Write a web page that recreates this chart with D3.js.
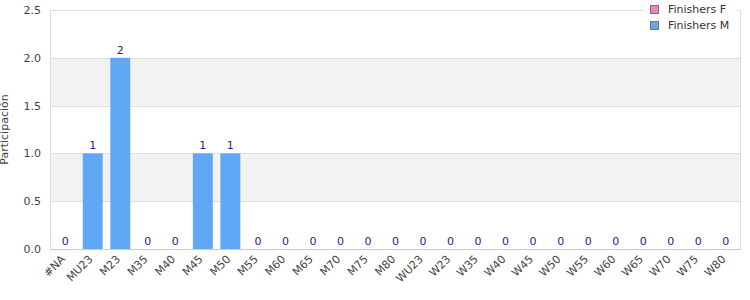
<!DOCTYPE html>
<html>
<head>
<meta charset="utf-8">
<script src="https://cdn.jsdelivr.net/npm/d3@7"></script>
<style>
  body { margin: 0; background: #fff; }
  svg { font-family: "DejaVu Sans", sans-serif; }
</style>
</head>
<body>
<svg id="chart" width="750" height="300"></svg>
<script>
// categories and series
var categories = ["#NA","MU23","M23","M35","M40","M45","M50","M55","M60","M65","M70","M75","M80",
  "WU23","W23","W35","W40","W45","W50","W55","W60","W65","W70","W75","W80"];
var finishersF = [0,0,0,0,0,0,0,0,0,0,0,0,0,0,0,0,0,0,0,0,0,0,0,0,0];
var finishersM = [0,1,2,0,0,1,1,0,0,0,0,0,0,0,0,0,0,0,0,0,0,0,0,0,0];
var yTicks = [0, 0.5, 1.0, 1.5, 2.0, 2.5];
var seriesNames = ["Finishers F", "Finishers M"];

var margin = { top: 10, right: 9, bottom: 51, left: 50 };
var width = 750 - margin.left - margin.right;
var height = 300 - margin.top - margin.bottom;

var svg = d3.select("#chart")
  .append("g")
  .attr("transform", "translate(" + margin.left + "," + margin.top + ")");

var x = d3.scaleBand().domain(categories).range([0, width]).paddingInner(0.275).paddingOuter(0.19);
var y = d3.scaleLinear().domain([0, 2.5]).range([height, 0]);
var color = d3.scaleOrdinal().domain(seriesNames).range(["#f27fc0", "#60a8f5"]);

// alternating bands
for (var i = 0; i < yTicks.length - 1; i++) {
  if (i % 2 == 1) {
    svg.append("rect")
      .attr("x", 0).attr("width", width)
      .attr("y", y(yTicks[i + 1])).attr("height", y(yTicks[i]) - y(yTicks[i + 1]))
      .attr("fill", "#f2f2f2");
  }
}

// grid lines
svg.append("g").selectAll("line")
  .data(yTicks.slice(1, -1))
  .enter().append("line")
  .attr("x1", 0).attr("x2", width)
  .attr("y1", function (d) { return Math.round(y(d)) + 0.5; })
  .attr("y2", function (d) { return Math.round(y(d)) + 0.5; })
  .attr("stroke", "#dddddd");

// plot border
svg.append("rect")
  .attr("x", 0.5).attr("y", 0.5).attr("width", width - 1).attr("height", height)
  .attr("fill", "none").attr("stroke", "#dddddd");

// bars (stacked F then M)
var stacked = categories.map(function (c, i) {
  return { cat: c, f: finishersF[i], m: finishersM[i] };
});
svg.append("g").selectAll("rect.f")
  .data(stacked).enter().append("rect")
  .attr("x", function (d) { return x(d.cat); })
  .attr("width", x.bandwidth())
  .attr("y", function (d) { return y(d.f); })
  .attr("height", function (d) { return y(0) - y(d.f); })
  .attr("fill", color("Finishers F"));
svg.append("g").selectAll("rect.m")
  .data(stacked).enter().append("rect")
  .attr("x", function (d) { return x(d.cat); })
  .attr("width", x.bandwidth())
  .attr("y", function (d) { return y(d.f + d.m); })
  .attr("height", function (d) { return y(d.f) - y(d.f + d.m); })
  .attr("fill", color("Finishers M"));

// value labels
svg.append("g").selectAll("text")
  .data(stacked).enter().append("text")
  .attr("x", function (d) { return x(d.cat) + x.bandwidth() / 2; })
  .attr("y", function (d) { return y(d.f + d.m) - 4; })
  .attr("text-anchor", "middle")
  .style("font-size", "11px")
  .attr("fill", "#1c1c94")
  .text(function (d) { return d.f + d.m; });

// x axis line
svg.append("line")
  .attr("x1", 0).attr("x2", width)
  .attr("y1", height + 0.5).attr("y2", height + 0.5)
  .attr("stroke", "#cccccc");

// x axis labels
var xAxis = svg.append("g")
  .attr("transform", "translate(0," + height + ")")
  .call(d3.axisBottom(x).tickSize(0).tickPadding(0));
xAxis.select(".domain").remove();
xAxis.selectAll("text")
  .attr("transform", "translate(-2,8) rotate(-45)")
  .attr("dy", "0.35em")
  .attr("y", 0)
  .attr("x", 0)
  .style("text-anchor", "end")
  .style("font-size", "11px")
  .style("font-family", "DejaVu Sans, sans-serif")
  .attr("fill", "#444");

// y axis labels
var yAxis = svg.append("g")
  .call(d3.axisLeft(y).tickValues(yTicks).tickFormat(d3.format(".1f")).tickSize(0).tickPadding(9));
yAxis.select(".domain").remove();
yAxis.selectAll("text")
  .style("font-size", "11px")
  .style("font-family", "DejaVu Sans, sans-serif")
  .attr("fill", "#444");

// y axis title
svg.append("text")
  .attr("transform", "translate(" + (-42) + "," + (height / 2) + ") rotate(-90)")
  .attr("text-anchor", "middle")
  .style("font-size", "11px")
  .attr("fill", "#444")
  .text("Participación");

// legend
var legend = d3.select("#chart").append("g").attr("transform", "translate(643,0)");
legend.append("rect").attr("x", 0).attr("y", 0).attr("width", 94).attr("height", 34).attr("fill", "#fff");
seriesNames.forEach(function (name, i) {
  legend.append("rect")
    .attr("x", 7.5).attr("y", 5.5 + i * 16).attr("width", 8).attr("height", 8)
    .attr("fill", color(name)).attr("stroke", "#777");
  legend.append("text")
    .attr("x", 25).attr("y", 13 + i * 16)
    .style("font-size", "11px")
    .attr("fill", "#333")
    .text(name);
});
</script>
</body>
</html>
